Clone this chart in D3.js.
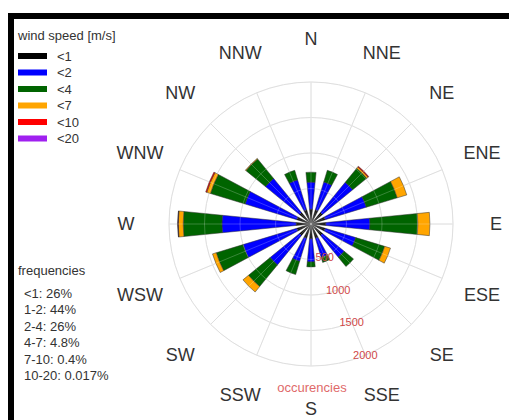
<!DOCTYPE html>
<html>
<head>
<meta charset="utf-8">
<script src="https://cdn.jsdelivr.net/npm/d3@7"></script>
<style>
  body { margin: 0; background: #fff; }
  text { font-family: "Liberation Sans", Arial, Helvetica, sans-serif; }
</style>
</head>
<body>
<div id="chart"></div>
<script>
const directions = ['N', 'NNE', 'NE', 'ENE', 'E', 'ESE', 'SE', 'SSE', 'S', 'SSW', 'SW', 'WSW', 'W', 'WNW', 'NW', 'NNW'];

// occurrences per speed class, one value per direction (same order as directions)
const speedLt1 = [210, 210, 210, 210, 210, 210, 210, 210, 210, 210, 210, 210, 210, 210, 210, 210];
const speed1to2 = [380, 410, 550, 605, 620, 450, 395, 280, 325, 340, 535, 790, 1045, 760, 620, 440];
const speed2to4 = [140, 170, 255, 455, 675, 425, 170, 75, 70, 195, 395, 395, 545, 510, 355, 140];
const speed4to7 = [0, 0, 25, 140, 170, 85, 0, 0, 0, 0, 100, 55, 70, 55, 10, 0];
const speed7to10 = [0, 0, 12, 0, 0, 0, 0, 0, 0, 0, 0, 0, 5, 15, 0, 0];
const speed10to20 = [0, 0, 0, 0, 0, 0, 0, 0, 0, 0, 0, 0, 1, 0, 0, 0];

const classLabels = ['<1', '<2', '<4', '<7', '<10', '<20'];
const classColors = ['#000000', '#0000ff', '#006400', '#ffa500', '#ff0000', '#a020f0'];
const ringTicks = [500, 1000, 1500, 2000];
const freqLabels = ['<1: 26%', '1-2: 44%', '2-4: 26%', '4-7: 4.8%', '7-10: 0.4%', '10-20: 0.017%'];

const width = 509;
const height = 420;
const cx = 311;
const cy = 224;

const svg = d3.select('#chart').append('svg')
  .attr('width', width)
  .attr('height', height);

const r = d3.scaleLinear().domain([0, 2000]).range([0, 142]);
const step = (2 * Math.PI) / directions.length;
const angle = d3.scaleOrdinal()
  .domain(directions)
  .range(directions.map((d, i) => i * step));

const series = [speedLt1, speed1to2, speed2to4, speed4to7, speed7to10, speed10to20];
const rows = directions.map((d, i) => {
  const row = { dir: d };
  series.forEach((s, k) => { row[classLabels[k]] = s[i]; });
  return row;
});
const stacked = d3.stack().keys(classLabels)(rows);

const g = svg.append('g').attr('transform', `translate(${cx},${cy})`);

function drawGrid(layer, color, w) {
  layer.selectAll('circle')
    .data(ringTicks)
    .enter().append('circle')
    .attr('r', d => r(d))
    .attr('fill', 'none')
    .attr('stroke', color)
    .attr('stroke-width', w);
  layer.selectAll('line')
    .data(directions)
    .enter().append('line')
    .attr('x1', 0)
    .attr('y1', 0)
    .attr('x2', d => r(2000) * Math.sin(angle(d)))
    .attr('y2', d => -r(2000) * Math.cos(angle(d)))
    .attr('stroke', color)
    .attr('stroke-width', w);
}

drawGrid(g.append('g'), '#d6d6d6', 1);

const arc = d3.arc()
  .innerRadius(d => r(d[0]))
  .outerRadius(d => r(d[1]))
  .startAngle(d => angle(d.data.dir) - step / 4)
  .endAngle(d => angle(d.data.dir) + step / 4);

g.append('g').selectAll('g')
  .data(stacked)
  .enter().append('g')
  .attr('fill', (d, i) => classColors[i])
  .selectAll('path')
  .data(d => d.filter(p => p[1] > p[0]))
  .enter().append('path')
  .attr('d', arc)
  .attr('stroke', '#333')
  .attr('stroke-width', 0.5);

// faint grid shows through the bars
drawGrid(g.append('g'), 'rgba(255,255,255,0.28)', 0.8);

// ring labels along the SSE spoke
const labelAngle = angle('SSE');
g.append('g').selectAll('text')
  .data(ringTicks)
  .enter().append('text')
  .attr('x', d => r(d) * Math.sin(labelAngle))
  .attr('y', d => -r(d) * Math.cos(labelAngle))
  .attr('text-anchor', 'middle')
  .attr('dominant-baseline', 'central')
  .attr('font-size', 11)
  .attr('fill', '#d04848')
  .text(d => d);

g.append('text')
  .attr('x', 1)
  .attr('y', 163)
  .attr('text-anchor', 'middle')
  .attr('dominant-baseline', 'central')
  .attr('font-size', 13)
  .attr('fill', '#e06a6a')
  .text('occurencies');

// compass labels
g.append('g').selectAll('text')
  .data(directions)
  .enter().append('text')
  .attr('x', d => 185 * Math.sin(angle(d)))
  .attr('y', d => -185 * Math.cos(angle(d)))
  .attr('text-anchor', 'middle')
  .attr('dominant-baseline', 'central')
  .attr('font-size', 18)
  .attr('fill', '#333')
  .text(d => d);

// legend
const legend = svg.append('g').attr('transform', 'translate(18,0)');
legend.append('text')
  .attr('x', 0)
  .attr('y', 35)
  .attr('dominant-baseline', 'central')
  .attr('font-size', 13)
  .attr('fill', '#333')
  .text('wind speed [m/s]');

const item = legend.selectAll('.item')
  .data(classLabels)
  .enter().append('g')
  .attr('class', 'item')
  .attr('transform', (d, i) => `translate(0,${56 + i * 16.5})`);
item.append('rect')
  .attr('x', 0)
  .attr('y', -3)
  .attr('width', 29)
  .attr('height', 6)
  .attr('fill', (d, i) => classColors[i]);
item.append('text')
  .attr('x', 39)
  .attr('y', 0)
  .attr('dominant-baseline', 'central')
  .attr('font-size', 13)
  .attr('fill', '#333')
  .text(d => d);

legend.append('text')
  .attr('x', 0)
  .attr('y', 270)
  .attr('dominant-baseline', 'central')
  .attr('font-size', 13)
  .attr('fill', '#333')
  .text('frequencies');

legend.selectAll('.freq')
  .data(freqLabels)
  .enter().append('text')
  .attr('class', 'freq')
  .attr('x', 6)
  .attr('y', (d, i) => 293 + i * 16.5)
  .attr('dominant-baseline', 'central')
  .attr('font-size', 13)
  .attr('fill', '#333')
  .text(d => d);

// frame
svg.append('path')
  .attr('d', `M11,${height} L11,16 L${width},16`)
  .attr('fill', 'none')
  .attr('stroke', '#000')
  .attr('stroke-width', 6);
</script>
</body>
</html>
